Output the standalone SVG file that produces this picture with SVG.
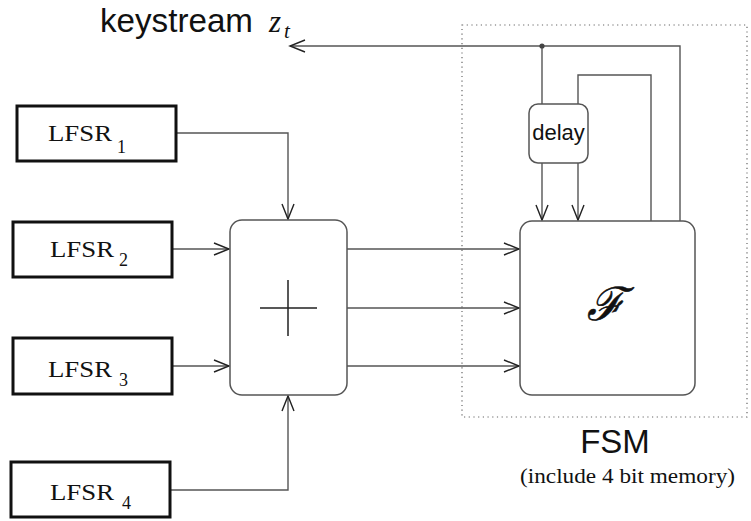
<svg xmlns="http://www.w3.org/2000/svg" width="751" height="521" viewBox="0 0 751 521">
  <style>
    .lfsr { fill: #fff; stroke: #111; stroke-width: 3; }
    .blk { fill: #fff; stroke: #555; stroke-width: 1.5; }
    .wire { fill: none; stroke: #555; stroke-width: 1.4; }
    .serif { font-family: "Liberation Serif", "DejaVu Serif", serif; fill: #111; }
    .sans { font-family: "Liberation Sans", "DejaVu Sans", sans-serif; fill: #111; }
    .sub { font-size: 18px; }
  </style>
  <defs>
    <marker id="arrow" markerUnits="userSpaceOnUse" markerWidth="20" markerHeight="16" viewBox="-16 -8 18 16" refX="0" refY="0" orient="auto">
      <path d="M -15 -6 L 0 0 L -15 6" fill="none" stroke="#222" stroke-width="1.4"/>
    </marker>
  </defs>

  <rect width="751" height="521" fill="#fff"/>

  <!-- FSM boundary -->
  <rect id="fsm-boundary" x="462" y="25" width="285" height="392" fill="none" stroke="#666" stroke-width="1.2" stroke-dasharray="1.2 3.5"/>

  <!-- output label -->
  <g id="keystream">
    <text class="sans" x="100" y="32" font-size="33" textLength="153" lengthAdjust="spacingAndGlyphs">keystream</text>
    <text class="serif" x="269" y="32" font-size="31" font-style="italic">z</text>
    <text class="serif" x="284" y="38" font-size="21" font-style="italic">t</text>
  </g>

  <!-- connectors -->
  <g id="connectors">
    <path class="wire" d="M 680 221 V 46 H 290" marker-end="url(#arrow)"/>
    <path class="wire" d="M 542 46 V 104"/>
    <path class="wire" d="M 542 163 V 220" marker-end="url(#arrow)"/>
    <path class="wire" d="M 578 163 V 220" marker-end="url(#arrow)"/>
    <path class="wire" d="M 651 221 V 75 H 578 V 104"/>
    <circle cx="542" cy="46" r="2.6" fill="#444"/>
    <path class="wire" d="M 176 133 H 288 V 219" marker-end="url(#arrow)"/>
    <path class="wire" d="M 172 249 H 229" marker-end="url(#arrow)"/>
    <path class="wire" d="M 172 366 H 229" marker-end="url(#arrow)"/>
    <path class="wire" d="M 170 490 H 288 V 396" marker-end="url(#arrow)"/>
    <path class="wire" d="M 347 249 H 519" marker-end="url(#arrow)"/>
    <path class="wire" d="M 347 308 H 519" marker-end="url(#arrow)"/>
    <path class="wire" d="M 347 366 H 519" marker-end="url(#arrow)"/>
  </g>

  <!-- LFSR registers -->
  <g id="lfsr1">
    <rect class="lfsr" x="17" y="106" width="159" height="55"/>
    <text class="serif" x="48" y="141" font-size="24" textLength="64" lengthAdjust="spacingAndGlyphs">LFSR</text>
    <text class="serif sub" x="117" y="153">1</text>
  </g>
  <g id="lfsr2">
    <rect class="lfsr" x="13" y="222" width="159" height="55"/>
    <text class="serif" x="50" y="257" font-size="24" textLength="64" lengthAdjust="spacingAndGlyphs">LFSR</text>
    <text class="serif sub" x="119" y="266">2</text>
  </g>
  <g id="lfsr3">
    <rect class="lfsr" x="13" y="338" width="159" height="56"/>
    <text class="serif" x="48" y="377" font-size="24" textLength="64" lengthAdjust="spacingAndGlyphs">LFSR</text>
    <text class="serif sub" x="119" y="386">3</text>
  </g>
  <g id="lfsr4">
    <rect class="lfsr" x="11" y="462" width="159" height="55"/>
    <text class="serif" x="50" y="500" font-size="24" textLength="64" lengthAdjust="spacingAndGlyphs">LFSR</text>
    <text class="serif sub" x="122" y="509">4</text>
  </g>

  <!-- combiner -->
  <g id="adder">
    <rect class="blk" x="230" y="220" width="117" height="175" rx="12"/>
    <path d="M 260 308 H 317 M 288 280 V 336" stroke="#222" stroke-width="1.5" fill="none"/>
  </g>

  <!-- delay element -->
  <g id="delay">
    <rect class="blk" x="529" y="104" width="59" height="59" rx="9"/>
    <text class="sans" x="558.5" y="140" font-size="22" text-anchor="middle">delay</text>
  </g>

  <!-- state update function -->
  <g id="F">
    <rect class="blk" x="520" y="221" width="175" height="174" rx="12"/>
    <text x="606" y="320" font-size="46" font-style="italic" text-anchor="middle" font-family="DejaVu Serif, serif" fill="#111" stroke="#111" stroke-width="0.6">ℱ</text>
  </g>

  <!-- FSM caption -->
  <g id="fsm-label">
    <text class="sans" x="615" y="453" font-size="33" text-anchor="middle">FSM</text>
    <text class="serif" x="520" y="483" font-size="20" textLength="215" lengthAdjust="spacingAndGlyphs">(include 4 bit memory)</text>
  </g>
</svg>
